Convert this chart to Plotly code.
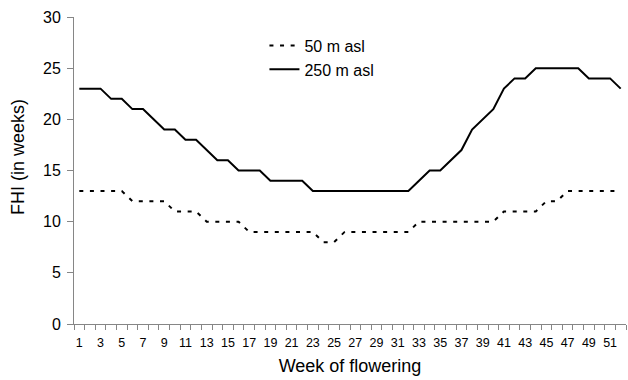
import plotly.graph_objects as go

weeks = list(range(1, 53))
fhi_50m = [13, 13, 13, 13, 13, 12, 12, 12, 12, 11, 11, 11, 10, 10, 10, 10,
           9, 9, 9, 9, 9, 9, 9, 8, 8, 9, 9, 9, 9, 9, 9, 9,
           10, 10, 10, 10, 10, 10, 10, 10, 11, 11, 11, 11, 12, 12,
           13, 13, 13, 13, 13, 13]
fhi_250m = [23, 23, 23, 22, 22, 21, 21, 20, 19, 19, 18, 18, 17, 16, 16, 15,
            15, 15, 14, 14, 14, 14, 13, 13, 13, 13, 13, 13, 13, 13, 13, 13,
            14, 15, 15, 16, 17, 19, 20, 21, 23, 24, 24, 25, 25, 25, 25, 25,
            24, 24, 24, 23]
series_names = ["50 m asl", "250 m asl"]
x_tick_vals = list(range(1, 53, 2))
x_tick_text = [str(v) for v in x_tick_vals]
y_tick_vals = [0, 5, 10, 15, 20, 25, 30]

FONT = "Liberation Sans, Arial, sans-serif"
AX = "#868686"

fig = go.Figure()
fig.add_trace(go.Scatter(x=weeks, y=fhi_50m, mode="lines", name=series_names[0],
                         legendgroup="a",
                         line=dict(color="black", width=2, dash="4px,6.6px")))
fig.add_trace(go.Scatter(x=weeks, y=fhi_250m, mode="lines", name=series_names[1],
                         legendgroup="b",
                         line=dict(color="black", width=2)))

fig.update_layout(
    width=628, height=380,
    margin=dict(l=74, r=2, t=17, b=56),
    paper_bgcolor="white", plot_bgcolor="white",
    font=dict(family=FONT, color="black"),
    showlegend=True,
    legend=dict(x=0.345, y=0.962, xanchor="left", yanchor="top",
                font=dict(size=16, family=FONT), bgcolor="rgba(0,0,0,0)",
                traceorder="grouped", tracegroupgap=0),
    annotations=[dict(text="FHI (in weeks)", textangle=-90,
                      x=(18 - 74) / 552, y=(324 - 157) / 307,
                      xanchor="center", yanchor="middle",
                      xref="paper", yref="paper", showarrow=False,
                      font=dict(size=18, family=FONT))],
)

fig.update_xaxes(
    range=[0.5, 52.5], tickvals=x_tick_vals, ticktext=x_tick_text,
    ticks="", tickfont=dict(size=12.5, family=FONT), ticklabelstandoff=7,
    minor=dict(tick0=0.5, dtick=1, ticks="outside", ticklen=5, tickcolor=AX, tickwidth=1),
    showline=True, linecolor=AX, linewidth=1, showgrid=False, zeroline=False,
    title=dict(text="Week of flowering", font=dict(size=18, family=FONT), standoff=10),
)
fig.update_yaxes(
    range=[0, 30], tickvals=y_tick_vals, ticks="outside", ticklen=6,
    tickcolor=AX, tickfont=dict(size=16, family=FONT), ticklabelstandoff=3,
    showline=True, linecolor=AX, linewidth=1, showgrid=False, zeroline=False,
)

fig.write_html("out.html")
